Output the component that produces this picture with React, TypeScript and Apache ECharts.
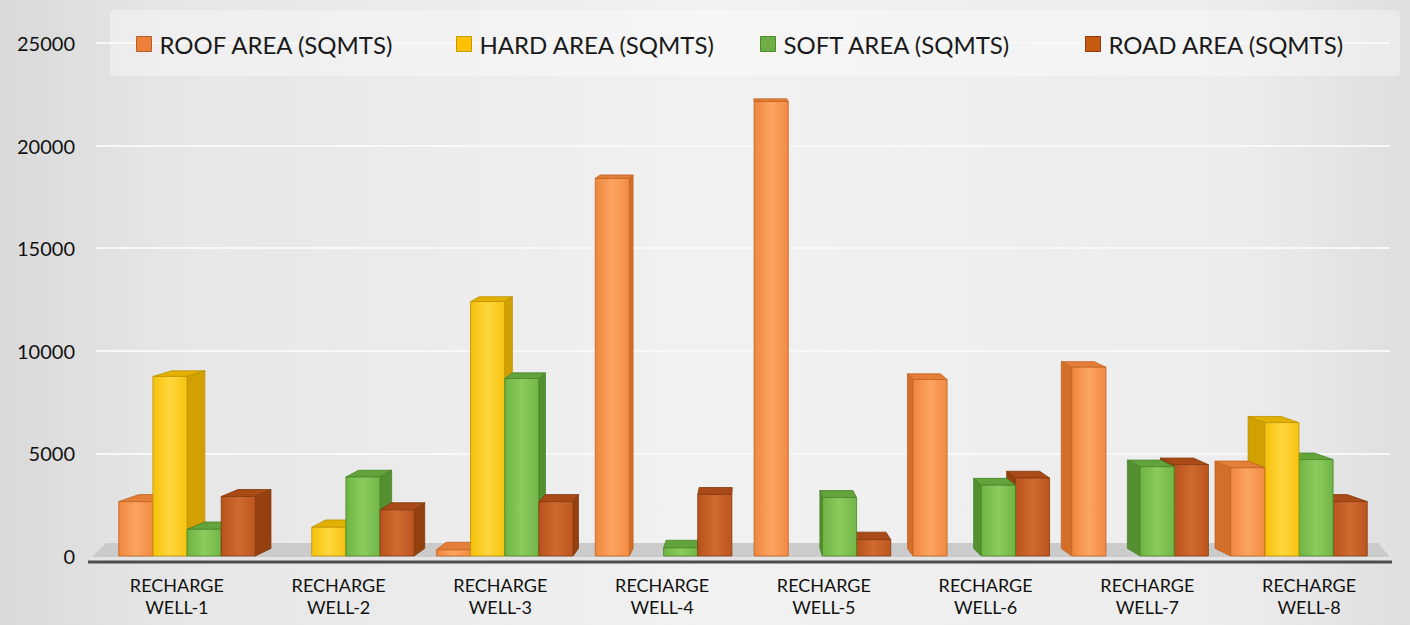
import React, { useEffect, useRef } from "react";
import * as echarts from "echarts";

const categories = [
  "RECHARGE\nWELL-1",
  "RECHARGE\nWELL-2",
  "RECHARGE\nWELL-3",
  "RECHARGE\nWELL-4",
  "RECHARGE\nWELL-5",
  "RECHARGE\nWELL-6",
  "RECHARGE\nWELL-7",
  "RECHARGE\nWELL-8",
];
const seriesNames = [
  "ROOF AREA (SQMTS)",
  "HARD AREA (SQMTS)",
  "SOFT AREA (SQMTS)",
  "ROAD AREA (SQMTS)",
];
const roofArea = [2650, 0, 300, 18400, 22150, 8600, 9200, 4300];
const hardArea = [8750, 1400, 12400, 0, 0, 0, 0, 6500];
const softArea = [1300, 3850, 8650, 400, 2850, 3450, 4350, 4700];
const roadArea = [2900, 2250, 2650, 3000, 800, 3800, 4450, 2650];
const yTicks = [0, 5000, 10000, 15000, 20000, 25000];

const seriesValues = [roofArea, hardArea, softArea, roadArea];

const palette = [
  { front: ["#F0863E", "#FCA462", "#F28A42"], side: "#D46F2B", top: "#E57E38", stroke: "#C0621F", legend: "#EE7F3A", legendBorder: "#B9602A" },
  { front: ["#F6C10C", "#FFD63C", "#F7C30F"], side: "#D2A000", top: "#E2B000", stroke: "#BC9200", legend: "#FFC000", legendBorder: "#C79500" },
  { front: ["#6DB443", "#8CCB5E", "#70B646"], side: "#54902F", top: "#63A33C", stroke: "#4A8429", legend: "#70AD47", legendBorder: "#4F8A2E" },
  { front: ["#B9531C", "#CF6A31", "#BC561E"], side: "#94410F", top: "#A94A17", stroke: "#833A0E", legend: "#C55A11", legendBorder: "#8A3C10" },
];

const legendLefts = [133, 453, 757, 1082];

const FONT = "Lato, 'Open Sans', sans-serif";

export default function App() {
  const ref = useRef<HTMLDivElement>(null);

  useEffect(() => {
    if (!ref.current) return;
    const chart = echarts.init(ref.current, undefined, { renderer: "svg" });

    const makeRender = (s: number) => (params: any, api: any) => {
      const catIdx = api.value(0);
      const val = api.value(1);
      if (!val) return null;
      const cs = params.coordSys;
      const vx = cs.x + cs.width / 2;
      const squeeze = (x: number) => vx + (x - vx) * 0.982;
      const band = api.size([1, 0])[0];
      const groupW = band * 0.86;
      const barW = groupW / 4;
      const base = api.coord([catIdx, 0]);
      const topP = api.coord([catIdx, val]);
      const x0 = squeeze(base[0] - groupW / 2 + s * barW);
      const x1 = squeeze(base[0] - groupW / 2 + (s + 1) * barW);
      const yT = topP[1];
      const yB = base[1];
      const kx = 0.032;
      const dxOf = (x: number) => (vx - x) * kx;
      const dyOf = (y: number) => -(1.5 + y * 0.011);
      const cx = (x0 + x1) / 2;
      const pal = palette[s];
      const z2 = Math.round(3000 - Math.abs(cx - vx));
      const children: any[] = [];
      const dT = dyOf(yT);
      const dB = dyOf(yB);
      children.push({
        type: "polygon",
        z2,
        shape: {
          points: [
            [x0, yT],
            [x1, yT],
            [x1 + dxOf(x1), yT + dT],
            [x0 + dxOf(x0), yT + dT],
          ],
        },
        style: { fill: pal.top, stroke: pal.stroke, lineWidth: 0.8 },
      });
      const sx = cx < vx ? x1 : x0;
      const sdx = dxOf(sx);
      if (Math.abs(sdx) > 0.8) {
        children.push({
          type: "polygon",
          z2,
          shape: {
            points: [
              [sx, yT],
              [sx + sdx, yT + dT],
              [sx + sdx, yB + dB],
              [sx, yB],
            ],
          },
          style: { fill: pal.side, stroke: pal.stroke, lineWidth: 0.8 },
        });
      }
      children.push({
        type: "rect",
        z2: z2 + 1,
        shape: { x: x0, y: yT, width: x1 - x0, height: yB - yT },
        style: {
          fill: new echarts.graphic.LinearGradient(0, 0, 1, 0, [
            { offset: 0, color: pal.front[0] },
            { offset: 0.5, color: pal.front[1] },
            { offset: 1, color: pal.front[2] },
          ]),
          stroke: pal.stroke,
          lineWidth: 0.8,
        },
      });
      return { type: "group", children };
    };

    const floorRender = (params: any, api: any) => {
      const cs = params.coordSys;
      const y0 = api.coord([0, 0])[1];
      return {
        type: "group",
        children: [
          {
            type: "polygon",
            shape: {
              points: [
                [cs.x - 4, y0 + 1],
                [cs.x + cs.width, y0 + 1],
                [cs.x + cs.width - 12, y0 - 13],
                [cs.x + 10, y0 - 13],
              ],
            },
            style: { fill: "#cbcbcb" },
          },
          {
            type: "rect",
            shape: { x: cs.x - 6, y: y0 + 1, width: cs.width + 8, height: 4 },
            style: { fill: "#e4e4e4" },
          },
          {
            type: "line",
            shape: { x1: cs.x - 8, y1: y0 + 6, x2: cs.x + cs.width + 2, y2: y0 + 6 },
            style: { stroke: "#4d4d4d", lineWidth: 3 },
          },
        ],
      };
    };

    const series: any[] = [
      {
        type: "custom",
        name: "floor",
        z: 1,
        silent: true,
        renderItem: floorRender,
        data: [[0, 0]],
      },
    ];
    seriesNames.forEach((name, s) => {
      series.push({
        type: "custom",
        name,
        z: 2,
        itemStyle: { color: palette[s].legend, borderColor: palette[s].legendBorder, borderWidth: 1 },
        renderItem: makeRender(s),
        encode: { x: 0, y: 1 },
        data: seriesValues[s].map((v, i) => [i, v]),
      });
    });

    const legends = seriesNames.map((name, s) => ({
      data: [name],
      left: legendLefts[s] - 2,
      top: 27,
      icon: "rect",
      itemWidth: 15,
      itemHeight: 15,
      itemStyle: { color: palette[s].legend, borderColor: palette[s].legendBorder, borderWidth: 1 },
      textStyle: {
        fontFamily: FONT,
        fontSize: 24,
        color: "#1a1a1a",
        padding: [0, 0, 0, 3],
      },
      selectedMode: false,
    }));

    chart.setOption({
      animation: false,
      backgroundColor: new echarts.graphic.LinearGradient(0, 0, 1, 0, [
        { offset: 0, color: "#d9d9d9" },
        { offset: 0.12, color: "#e6e6e6" },
        { offset: 0.5, color: "#f1f1f1" },
        { offset: 0.88, color: "#ececec" },
        { offset: 1, color: "#dedede" },
      ]),
      graphic: [
        {
          type: "rect",
          left: 110,
          top: 10,
          shape: { width: 1290, height: 66, r: 4 },
          style: { fill: "rgba(255,255,255,0.35)" },
          z: -1,
          silent: true,
        },
      ],
      legend: legends,
      grid: { left: 96, right: 20, top: 43, bottom: 69, containLabel: false },
      xAxis: {
        type: "category",
        data: categories,
        axisLine: { show: false },
        axisTick: { show: false },
        axisLabel: {
          interval: 0,
          fontFamily: FONT,
          fontSize: 18,
          lineHeight: 22,
          color: "#111",
          margin: 18,
        },
      },
      yAxis: {
        type: "value",
        min: yTicks[0],
        max: yTicks[yTicks.length - 1],
        interval: yTicks[1] - yTicks[0],
        axisLine: { show: false },
        axisTick: { show: false },
        axisLabel: {
          fontFamily: FONT,
          fontSize: 20,
          color: "#111",
          margin: 21,
          padding: [8, 0, 0, 0],
          formatter: (v: number) => String(v),
        },
        splitLine: { lineStyle: { color: "#f8f8f8", width: 2 } },
      },
      series,
    });

    return () => chart.dispose();
  }, []);

  return (
    <div
      ref={ref}
      style={{ position: "absolute", left: 0, top: 0, width: 1410, height: 625 }}
    />
  );
}
